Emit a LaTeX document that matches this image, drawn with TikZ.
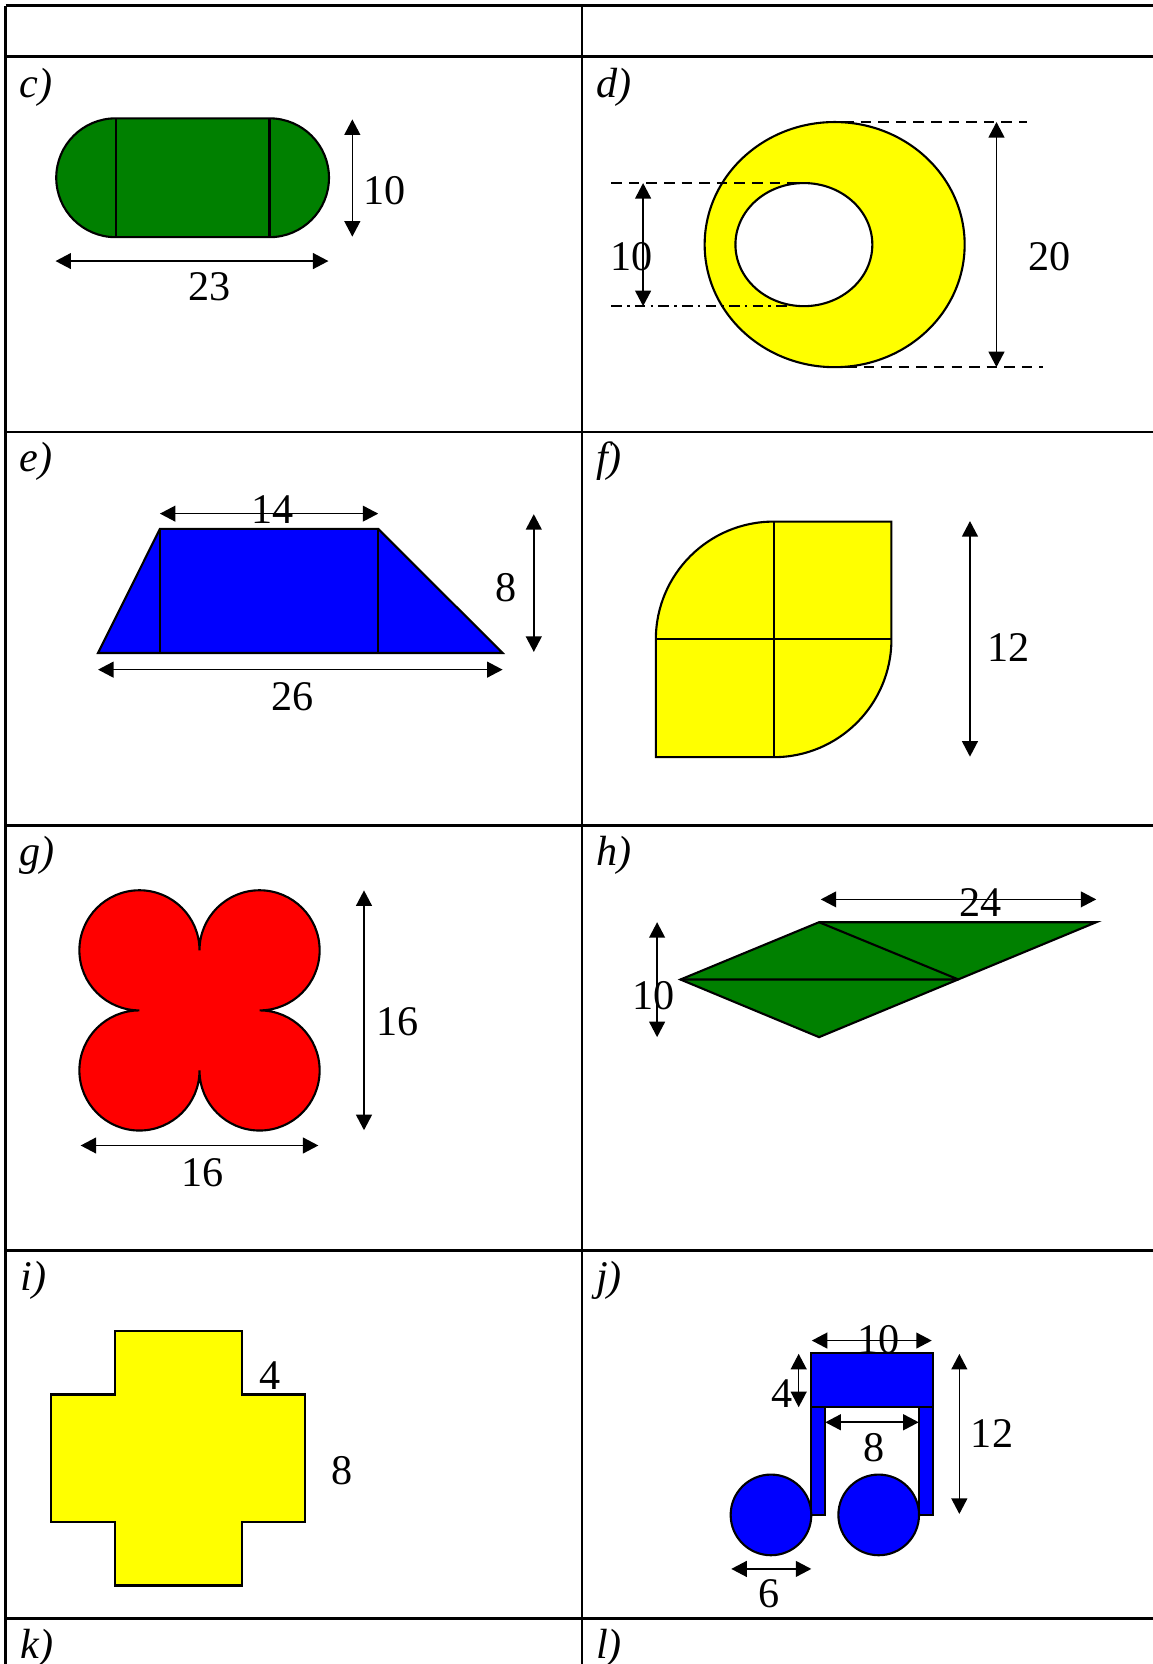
\documentclass[tikz,border=0pt]{standalone}
\usepackage{fontspec}
\setmainfont{Liberation Serif}
\usepackage{tikz}
\usetikzlibrary{arrows.meta}
\definecolor{figgreen}{RGB}{0,128,0}
\definecolor{figyellow}{RGB}{255,255,0}
\definecolor{figblue}{RGB}{0,0,255}
\definecolor{figred}{RGB}{255,0,0}

\begin{document}
\begin{tikzpicture}[x=0.010608cm, y=-0.010608cm,
		gridline/.style={line width=0.8pt},
		shapeline/.style={draw=black, line width=0.6pt},
		dimarrow/.style={{Triangle[length=4.4pt,width=4.5pt]}-{Triangle[length=4.4pt,width=4.5pt]}, line width=0.45pt},
		guideline/.style={line width=0.45pt, dash pattern=on 3pt off 2pt},
		dashdotline/.style={line width=0.45pt, dash pattern=on 3pt off 1.5pt on 0.7pt off 1.5pt},
		dimtext/.style={font=\fontsize{12}{14}\selectfont, inner sep=0pt},
		parttext/.style={font=\fontsize{12}{14}\selectfont\itshape, anchor=base west, inner sep=0pt}]
			\useasboundingbox (0,0) rectangle (1086,1568);

			% Table grid
			\foreach \yy in {5.3,53.4,407,778,1178.5,1525}
				\draw[gridline] (5.4,\yy) -- (1086,\yy);
			\draw[gridline] (5.4,5.3) -- (5.4,1568);
			\draw[gridline] (548.4,5.3) -- (548.4,1568);

			% Part labels
			\node[parttext] (lab-c) at (18,91.5)   {c)};
			\node[parttext] (lab-d) at (561,91.5)  {d)};
			\node[parttext] (lab-e) at (18,444.5)  {e)};
			\node[parttext] (lab-f) at (561,444.5) {f)};
			\node[parttext] (lab-g) at (18,816)    {g)};
			\node[parttext] (lab-h) at (561,816)   {h)};
			\node[parttext] (lab-i) at (19,1216)   {i)};
			\node[parttext] (lab-j) at (561,1216)  {j)};
			\node[parttext] (lab-k) at (19,1563)   {k)};
			\node[parttext] (lab-l) at (561,1563)  {l)};

			% c) stadium
			\draw[shapeline, fill=figgreen] (109,111.5) -- (254,111.5)
				arc[start angle=270, end angle=450, radius=56] -- (109,223.5)
				arc[start angle=90, end angle=270, radius=56] -- cycle;
			\draw[shapeline] (109,111.5) -- (109,223.5) (254,111.5) -- (254,223.5);
			\draw[dimarrow] (332,112.5) -- (332,223);
			\node[dimtext] (c-h) at (362,180) {10};
			\draw[dimarrow] (52.3,246) -- (309.5,246);
			\node[dimtext] (c-w) at (197.5,270) {23};

			% d) ring
			\fill[figyellow, even odd rule] (786.5,230.5) ellipse[x radius=122.5, y radius=115.5]
				(757.5,230.5) ellipse[x radius=64.5, y radius=58];
			\draw[shapeline] (786.5,230.5) ellipse[x radius=122.5, y radius=115.5];
			\draw[shapeline] (757.5,230.5) ellipse[x radius=64.5, y radius=58];
			\draw[guideline] (794.5,115) -- (968,115);
			\draw[guideline] (780.6,346) -- (983,346);
			\draw[guideline] (576,172.5) -- (753,172.5);
			\draw[dashdotline] (576,288.5) -- (746,288.5);
			\draw[dimarrow] (606,172.5) -- (606,288.5);
			\node[dimtext] (d-in) at (595.4,241.5) {10};
			\draw[dimarrow] (939,115) -- (939,346);
			\node[dimtext] (d-out) at (989,241.5) {20};

			% e) trapezium
			\draw[shapeline, fill=figblue] (92.4,615.3) -- (150.7,498.4) -- (356.4,498.4) -- (473.6,615.3) -- cycle;
			\draw[shapeline] (150.7,498.4) -- (150.7,615.3) (356.4,498.4) -- (356.4,615.3);
			\draw[dimarrow] (150.7,484) -- (356.4,484);
			\node[dimtext] (e-top) at (256.9,480) {14};
			\draw[dimarrow] (92.4,631) -- (473.6,631);
			\node[dimtext] (e-base) at (275.5,656.7) {26};
			\draw[dimarrow] (503,484.5) -- (503,614.3);
			\node[dimtext] (e-h) at (476.6,553.8) {8};

			% f) leaf
			\draw[shapeline, fill=figyellow] (618,602.5)
				arc[start angle=180, end angle=270, radius=111] -- (840,491.5) -- (840,602.5)
				arc[start angle=0, end angle=90, radius=111] -- (618,713.5) -- cycle;
			\draw[shapeline] (729,491.5) -- (729,713.5) (618,602.5) -- (840,602.5);
			\draw[dimarrow] (914,491) -- (914,713);
			\node[dimtext] (f-h) at (950,610.5) {12};

			% g) four circles
			\draw[shapeline, fill=figred] (188,895.5)
				arc[start angle=180, end angle=450, radius=56.6]
				arc[start angle=270, end angle=540, radius=56.6]
				arc[start angle=0, end angle=270, radius=56.6]
				arc[start angle=90, end angle=360, radius=56.6] -- cycle;
			\draw[dimarrow] (343,839) -- (343,1065);
			\node[dimtext] (g-h) at (375,963) {16};
			\draw[dimarrow] (76,1079.4) -- (300,1079.4);
			\node[dimtext] (g-w) at (191,1105) {16};

			% h) kite and triangle
			\draw[shapeline, fill=figgreen] (641.2,923) -- (771.8,869) -- (1033,869) -- (771.8,977.3) -- cycle;
			\draw[shapeline] (641.2,923) -- (903.2,923) (771.8,869) -- (903.2,923);
			\draw[dimarrow] (773.4,847.5) -- (1033,847.5);
			\node[dimtext] (h-w) at (924.3,850) {24};
			\draw[dimarrow] (619.2,869) -- (619.2,977.3);
			\node[dimtext] (h-h) at (616,938) {10};

			% i) cross
			\draw[shapeline, fill=figyellow] (108.4,1254.4) -- (227.8,1254.4) -- (227.8,1314) -- (287.5,1314)
				-- (287.5,1434.5) -- (227.8,1434.5) -- (227.8,1494) -- (108.4,1494) -- (108.4,1434.5)
				-- (48,1434.5) -- (48,1314) -- (108.4,1314) -- cycle;
			\node[dimtext] (i-arm) at (254,1296) {4};
			\node[dimtext] (i-w) at (322,1386) {8};

			% j) note
			\draw[shapeline, fill=figblue] (764.5,1326) rectangle (777.7,1427.5);
			\draw[shapeline, fill=figblue] (865.7,1326) rectangle (878.9,1427.5);
			\draw[shapeline, fill=figblue] (764.5,1275.1) rectangle (878.9,1326);
			\draw[shapeline, fill=figblue] (726.5,1427.5) circle[radius=38];
			\draw[shapeline, fill=figblue] (828,1427.5) circle[radius=38];
			\draw[dimarrow] (765,1263.2) -- (878,1263.2);
			\node[dimtext] (j-top) at (828,1262.6) {10};
			\draw[dimarrow] (752.6,1275.7) -- (752.6,1326);
			\node[dimtext] (j-bar) at (736.9,1312.9) {4};
			\draw[dimarrow] (777.7,1340.2) -- (865.7,1340.2);
			\node[dimtext] (j-gap) at (823.9,1363.8) {8};
			\draw[dimarrow] (904,1275.8) -- (904,1426.6);
			\node[dimtext] (j-h) at (934.8,1351.2) {12};
			\draw[dimarrow] (689.1,1478.4) -- (764.5,1478.4);
			\node[dimtext] (j-d) at (725,1502) {6};
\end{tikzpicture}
\end{document}
